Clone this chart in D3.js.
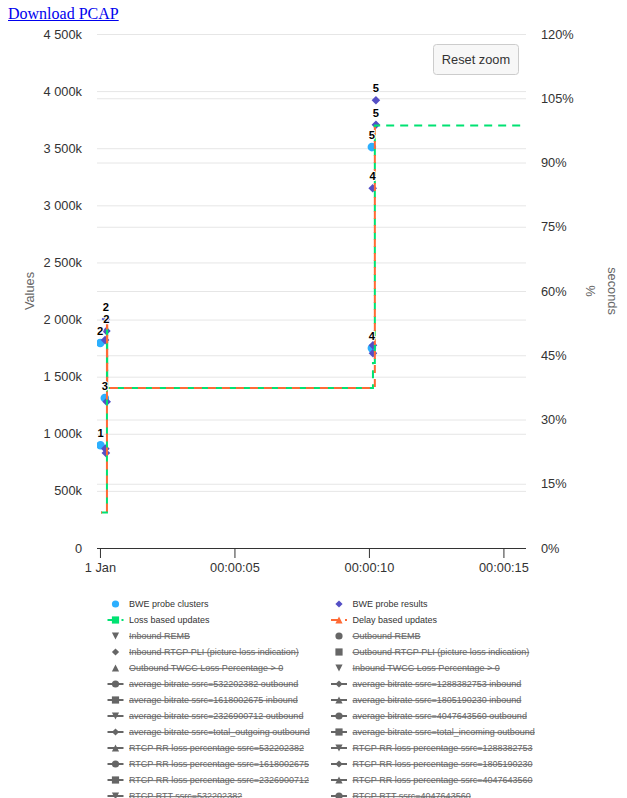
<!DOCTYPE html>
<html><head><meta charset="utf-8">
<script src="https://cdn.jsdelivr.net/npm/d3@7"></script>
<style>
body{margin:0;background:#fff;}
#dl{position:absolute;left:8px;top:5px;font-family:"Liberation Serif","Times New Roman",serif;font-size:16px;color:#0000ee;text-decoration:underline;}
svg{position:absolute;left:0;top:0;font-family:"Liberation Sans",Arial,Helvetica,sans-serif;}
</style></head><body>
<a id="dl" href="#">Download PCAP</a>
<svg id="c" width="627" height="798"></svg>
<script>
// ---------- data ----------
const xTicks = [0, 5, 10, 15];
const xTickLabels = ["1 Jan", "00:00:05", "00:00:10", "00:00:15"];
const yTicks = [0, 500000, 1000000, 1500000, 2000000, 2500000, 3000000, 3500000, 4000000, 4500000];
const yTickLabels = ["0", "500k", "1 000k", "1 500k", "2 000k", "2 500k", "3 000k", "3 500k", "4 000k", "4 500k"];
const pctTicks = [0, 15, 30, 45, 60, 75, 90, 105, 120];
const pctTickLabels = ["0%", "15%", "30%", "45%", "60%", "75%", "90%", "105%", "120%"];

// BWE probe clusters (time s, bitrate, label)
const clusterTimes  = [0.02, 0.01, 0.18, 10.11, 10.11];
const clusterValues = [900000, 1795000, 1313000, 1750000, 3510000];
const clusterLabels = ["1", "2", "3", "4", "5"];

// BWE probe results
const resultTimes  = [0.2, 0.22, 0.25, 0.19, 0.22, 0.24, 10.15, 10.15, 10.14, 10.26, 10.26];
const resultValues = [870000, 832000, 1280000, 1820000, 2005000, 1900000, 1775000, 1705000, 3150000, 3705000, 3920000];
const resultLabels = ["", "", "", "", "2", "2", "", "", "4", "5", "5"];

// Loss based updates (step)
const lossTimes  = [0.04, 0.26, 0.27, 10.15, 10.22, 15.9];
const lossValues = [310000, 1950000, 1400000, 1620000, 3700000, 3700000];

// Delay based updates (step)
const delayTimes  = [0.04, 0.26, 0.27, 10.22];
const delayValues = [310000, 1950000, 1400000, 3700000];

const seriesNames = [
  "BWE probe clusters", "BWE probe results",
  "Loss based updates", "Delay based updates",
  "Inbound REMB", "Outbound REMB",
  "Inbound RTCP PLI (picture loss indication)", "Outbound RTCP PLI (picture loss indication)",
  "Outbound TWCC Loss Percentage > 0", "Inbound TWCC Loss Percentage > 0",
  "average bitrate ssrc=532202382 outbound", "average bitrate ssrc=1288382753 inbound",
  "average bitrate ssrc=1618002675 inbound", "average bitrate ssrc=1805190230 inbound",
  "average bitrate ssrc=2326900712 outbound", "average bitrate ssrc=4047643560 outbound",
  "average bitrate ssrc=total_outgoing outbound", "average bitrate ssrc=total_incoming outbound",
  "RTCP RR loss percentage ssrc=532202382", "RTCP RR loss percentage ssrc=1288382753",
  "RTCP RR loss percentage ssrc=1618002675", "RTCP RR loss percentage ssrc=1805190230",
  "RTCP RR loss percentage ssrc=2326900712", "RTCP RR loss percentage ssrc=4047643560",
  "RTCP RTT ssrc=532202382", "RTCP RTT ssrc=4047643560"
];
const seriesVisible = [true, true, true, true];
const seriesHasLine = [false, false, true, true, false, false, false, false, false, false];
const seriesColors = ["#2caffe", "#544fc5", "#00e272", "#fe6a35"];
const symbolCycle = ["circle", "diamond", "square", "triangle", "triangle-down"];

// ---------- layout ----------
const P = {left: 97, right: 526, top: 34, bottom: 548};
const svg = d3.select("#c");
const x = d3.scaleLinear().domain([-0.11, 15.84]).range([P.left, P.right]);
const y = d3.scaleLinear().domain([0, 4500000]).range([P.bottom, P.top]);
const yP = d3.scaleLinear().domain([0, 120]).range([P.bottom, P.top]);
const W = P.right - P.left;

function sym(type, r) {
  switch (type) {
    case "circle": return `M0,${-r}A${r},${r} 0 1,1 0,${r}A${r},${r} 0 1,1 0,${-r}Z`;
    case "diamond": return `M0,${-r}L${r},0L0,${r}L${-r},0Z`;
    case "square": return `M${-r},${-r}H${r}V${r}H${-r}Z`;
    case "triangle": return `M0,${-r}L${r},${r}L${-r},${r}Z`;
    case "triangle-down": return `M${-r},${-r}L${r},${-r}L0,${r}Z`;
  }
}

// gridlines
const gL = svg.append("g").attr("transform", `translate(${P.left},0)`)
  .call(d3.axisLeft(y).tickValues(yTicks).tickSize(-W).tickFormat(""));
gL.select(".domain").remove();
gL.selectAll("line").attr("stroke", "#e6e6e6");
const gR = svg.append("g").attr("transform", `translate(${P.left},0)`)
  .call(d3.axisLeft(yP).tickValues(pctTicks).tickSize(-W).tickFormat(""));
gR.select(".domain").remove();
gR.selectAll("line").attr("stroke", "#e6e6e6");

// y labels
const aL = svg.append("g").attr("transform", `translate(${P.left},0)`)
  .call(d3.axisLeft(y).tickValues(yTicks).tickSize(0).tickPadding(15).tickFormat((d, i) => yTickLabels[i]));
aL.select(".domain").remove();
aL.selectAll("text").attr("fill", "#333333").style("font-size", "12.8px").style("font-family", "inherit");
const aR = svg.append("g").attr("transform", `translate(${P.right},0)`)
  .call(d3.axisRight(yP).tickValues(pctTicks).tickSize(0).tickPadding(15).tickFormat((d, i) => pctTickLabels[i]));
aR.select(".domain").remove();
aR.selectAll("text").attr("fill", "#333333").style("font-size", "12.8px").style("font-family", "inherit");

// x axis
const aX = svg.append("g").attr("transform", `translate(0,${P.bottom})`)
  .call(d3.axisBottom(x).tickValues(xTicks).tickSize(10).tickPadding(5).tickFormat((d, i) => xTickLabels[i]));
aX.select(".domain").attr("stroke", "#333333").attr("d", `M${P.left},0.5H${P.right}`);
aX.selectAll("line").attr("stroke", "#333333");
aX.selectAll("text").attr("fill", "#333333").style("font-size", "12.8px").style("font-family", "inherit");

// axis titles
svg.append("text").attr("transform", `translate(34,${(P.top + P.bottom) / 2}) rotate(-90)`)
  .attr("text-anchor", "middle").attr("fill", "#666666").style("font-size", "12.8px").text("Values");
svg.append("text").attr("transform", `translate(586,${(P.top + P.bottom) / 2}) rotate(90)`)
  .attr("text-anchor", "middle").attr("fill", "#666666").style("font-size", "12.8px").text("%");
svg.append("text").attr("transform", `translate(608,${(P.top + P.bottom) / 2}) rotate(90)`)
  .attr("text-anchor", "middle").attr("fill", "#666666").style("font-size", "12.8px").text("seconds");

// clip
svg.append("clipPath").attr("id", "clip").append("rect")
  .attr("x", P.left).attr("y", P.top - 10).attr("width", W).attr("height", P.bottom - P.top + 20);
const plot = svg.append("g").attr("clip-path", "url(#clip)");

// scatter: clusters, results
plot.append("g").selectAll("path").data(clusterTimes.map((t, i) => [t, clusterValues[i]])).join("path")
  .attr("transform", d => `translate(${x(d[0])},${y(d[1])})`).attr("d", sym("circle", 4.3)).attr("fill", seriesColors[0]);
plot.append("g").selectAll("path").data(resultTimes.map((t, i) => [t, resultValues[i]])).join("path")
  .attr("transform", d => `translate(${x(d[0])},${y(d[1])})`).attr("d", sym("diamond", 4.3)).attr("fill", seriesColors[1]);

// step lines
const line = d3.line().x(d => x(d[0])).y(d => y(d[1])).curve(d3.curveStepAfter);
plot.append("path").datum(lossTimes.map((t, i) => [t, lossValues[i]]))
  .attr("d", line).attr("fill", "none").attr("stroke", seriesColors[2]).attr("stroke-width", 2)
  .attr("stroke-dasharray", "8,6");
plot.append("path").datum(delayTimes.map((t, i) => [t, delayValues[i]]))
  .attr("d", line).attr("fill", "none").attr("stroke", seriesColors[3]).attr("stroke-width", 2)
  .attr("stroke-dasharray", "8,6").attr("stroke-dashoffset", 7);

// data labels
const lab = svg.append("g").style("font-size", "11.2px").style("font-weight", "bold")
  .attr("text-anchor", "middle");
const labelData = clusterTimes.map((t, i) => [t, clusterValues[i], clusterLabels[i]])
  .concat(resultTimes.map((t, i) => [t, resultValues[i], resultLabels[i]])).filter(d => d[2]);
lab.selectAll("text").data(labelData).join("text")
  .attr("x", d => x(d[0])).attr("y", d => y(d[1]) - 8)
  .attr("fill", "#000").attr("stroke", "#fff").attr("stroke-width", 2).attr("paint-order", "stroke")
  .attr("stroke-linejoin", "round").text(d => d[2]);

// reset zoom button
const btn = svg.append("g");
btn.append("rect").attr("x", 433.5).attr("y", 44.5).attr("width", 85).attr("height", 30).attr("rx", 3)
  .attr("fill", "#f7f7f7").attr("stroke", "#cccccc");
btn.append("text").attr("x", 476).attr("y", 64).attr("text-anchor", "middle").attr("fill", "#333333")
  .style("font-size", "12.8px").text("Reset zoom");

// legend
const leg = svg.append("g").style("font-size", "9px");
seriesNames.forEach((name, i) => {
  const col = i % 2, row = Math.floor(i / 2);
  const cx = col === 0 ? 115.5 : 339;
  const tx = col === 0 ? 129 : 352.5;
  const cy = 604 + row * 16;
  const vis = i < seriesVisible.length ? seriesVisible[i] : false;
  const hasLine = i < seriesHasLine.length ? seriesHasLine[i] : true;
  const color = vis ? seriesColors[i] : "#666666";
  const g = leg.append("g");
  if (hasLine) {
    g.append("path").attr("d", `M${cx - 8},${cy}H${cx + 8}`).attr("stroke", color).attr("stroke-width", 2)
      .attr("stroke-dasharray", vis ? "8,6" : null);
  }
  g.append("path").attr("transform", `translate(${cx},${cy})`).attr("d", sym(symbolCycle[i % 5], 3.6))
    .attr("fill", color);
  g.append("text").attr("x", tx).attr("y", cy + 3.3).attr("fill", vis ? "#333333" : "#666666")
    .style("text-decoration", vis ? "none" : "line-through").text(name);
});
</script>
</body></html>
